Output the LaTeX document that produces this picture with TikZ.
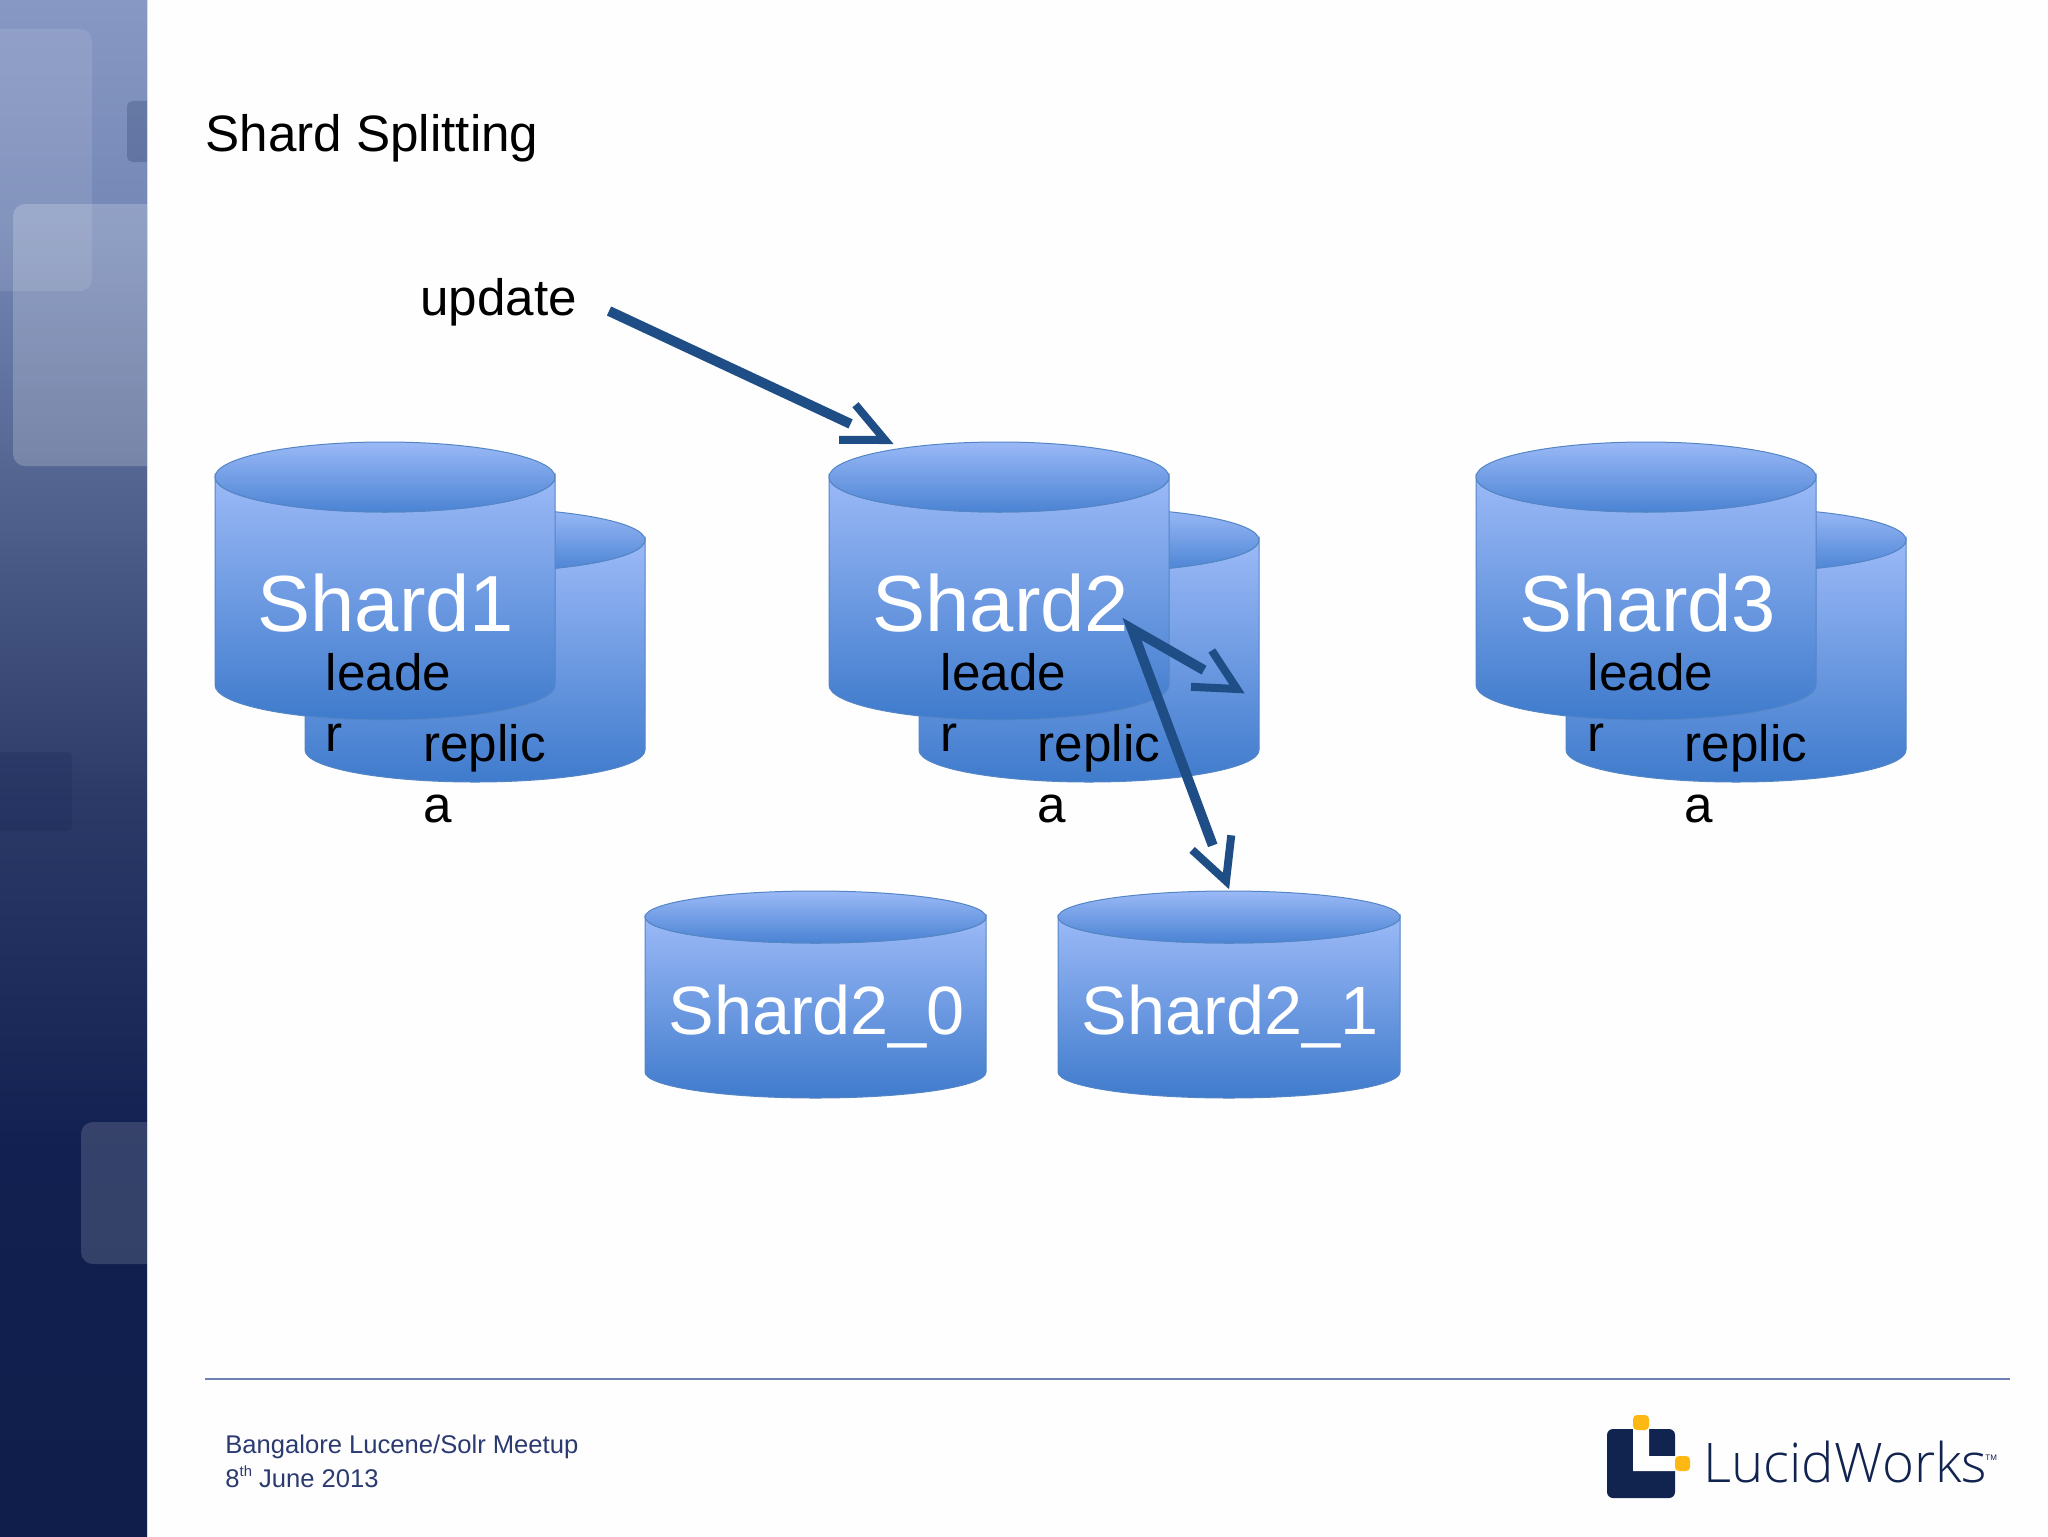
\documentclass[tikz,border=0pt]{standalone}
\usepackage{fontspec}
\setmainfont{Liberation Sans}
\newfontfamily\logofont{Open Sans Light}
\usetikzlibrary{calc}
\definecolor{cylTop}{HTML}{9BB9F7}
\definecolor{cylBot}{HTML}{3F7BCC}
\definecolor{capBot}{HTML}{4A83D3}
\definecolor{cylEdge}{HTML}{5486C6}
\definecolor{arrowBlue}{HTML}{1F4E86}
\definecolor{footBlue}{HTML}{2B3A70}
\definecolor{ruleBlue}{HTML}{6D82B0}
\definecolor{logoNavy}{HTML}{11234F}
\definecolor{logoGold}{HTML}{FDB813}
\definecolor{pa}{HTML}{0F1E4A}
\definecolor{pb}{HTML}{112050}
\definecolor{pc}{HTML}{2C3A68}
\definecolor{pd}{HTML}{52638F}
\definecolor{pe}{HTML}{7487B5}
\definecolor{pf}{HTML}{8898C4}
% the filled path runs from 25bp (its bottom) to 75bp (its top)
\pgfdeclareverticalshading{sidepanel}{100bp}{
 color(0bp)=(pa);
 color(25bp)=(pa);
 color(37.5bp)=(pb);
 color(49bp)=(pc);
 color(59bp)=(pd);
 color(67.5bp)=(pe);
 color(75bp)=(pf);
 color(100bp)=(pf)}
\tikzset{
 bodyfill/.style={draw=cylEdge,line width=0.5pt,top color=cylTop,bottom color=cylBot},
 capfill/.style={draw=cylEdge,line width=0.5pt,top color=cylTop,bottom color=capBot},
 bigname/.style={font=\fontsize{39.8}{40}\selectfont,text=white,anchor=base west,inner sep=0pt},
 smallname/.style={font=\fontsize{34.2}{36}\selectfont,text=white,anchor=base west,inner sep=0pt},
 rolelabel/.style={font=\fontsize{25.6}{30.5}\selectfont,text=black,align=left,anchor=base west,inner sep=0pt},
 heading/.style={font=\fontsize{25.6}{30}\selectfont,text=black,anchor=base west,inner sep=0pt},
 footer/.style={font=\fontsize{12.8}{17}\selectfont,text=footBlue,align=left,anchor=base west,inner sep=0pt},
 conn/.style={draw=arrowBlue,line width=4pt,line cap=butt,miter limit=20},
 shaft/.style={conn,line width=5pt,shorten >=19pt},
 panelbox/.style={rounded corners=6pt}
}
% #1 name, #2 left x, #3 right x, #4 rim centre y, #5 side end y, #6 ry (px)
\newcommand\cylshape[6]{%
 \pgfmathsetmacro\rxpt{(#3-#2)/4}%
 \pgfmathsetmacro\rypt{#6/2}%
 \pgfmathsetmacro\xmid{(#2+#3)/2}%
 \path[bodyfill] (#2,#4) arc[start angle=180,end angle=360,x radius=\rxpt pt,y radius=\rypt pt]
   -- (#3,#5) arc[start angle=0,end angle=-180,x radius=\rxpt pt,y radius=\rypt pt] -- cycle;
 \path[capfill] (\xmid,#4) ellipse[x radius=\rxpt pt,y radius=\rypt pt];
 \coordinate (#1) at (\xmid,#4);
}
% #1 tip apex, #2 coordinate the arrow comes from, #3 half angle
\newcommand\barbs[3]{%
 \draw[conn] ($(#1)!23pt!#3:(#2)$) -- (#1) -- ($(#1)!23pt!-#3:(#2)$);
}
\begin{document}
\begin{tikzpicture}[x=0.5pt,y=-0.5pt]
\useasboundingbox (0,0) rectangle (2048,1536);
\fill[white!99.5!black] (0,0) rectangle (2048,1536);
% side panel
\shade[shading=sidepanel] (0,0) rectangle (147,1536);
\begin{scope}
 \clip (0,0) rectangle (147,1536);
 \fill[white,opacity=.10,panelbox] (-30,29) rectangle (92,291);
 \fill[white,opacity=.20,panelbox] (13,204) rectangle (200,466);
 \fill[logoNavy,opacity=.22,rounded corners=3pt] (127,101) rectangle (200,162);
 \fill[logoNavy,opacity=.20,rounded corners=2pt] (-30,752) rectangle (72,831);
 \fill[white,opacity=.15,panelbox] (81,1122) rectangle (200,1264);
\end{scope}
\draw[white!70!ruleBlue,line width=0.5pt] (147.5,0) -- (147.5,1536);

% title and update label
\node[heading] (title) at (205,151) {Shard Splitting};
\node[heading] (update) at (420,315.5) {update};

% replica cylinders then leaders
\cylshape{r1}{305}{645}{540}{750}{32}
\cylshape{r2}{919}{1259}{540}{750}{32}
\cylshape{r3}{1566}{1906}{540}{750}{32}
\cylshape{l1}{215}{555}{477}{685}{35}
\cylshape{l2}{829}{1169}{477}{685}{35}
\cylshape{l3}{1476}{1816}{477}{685}{35}
\cylshape{n0}{645}{986}{917}{1072}{26}
\cylshape{n1}{1058}{1400}{917}{1072}{26}

\node[bigname] (s1) at (257,631) {Shard1};
\node[bigname] (s2) at (872,631) {Shard2};
\node[bigname] (s3) at (1519,631) {Shard3};
\node[rolelabel] (ll1) at (325.5,751) {leade\\r};
\node[rolelabel] (ll2) at (940.5,751) {leade\\r};
\node[rolelabel] (ll3) at (1587.5,751) {leade\\r};
\node[rolelabel] (rl1) at (423,822) {replic\\a};
\node[rolelabel] (rl2) at (1037.5,822) {replic\\a};
\node[rolelabel] (rl3) at (1684.5,822) {replic\\a};
\node[smallname] (s20) at (668,1034.5) {Shard2\_0};
\node[smallname] (s21) at (1081.5,1034.5) {Shard2\_1};

% connectors
\coordinate (ustart) at (609,311);
\coordinate (utip) at (885,440);
\coordinate (split) at (1132,629);
\coordinate (rtip) at (1237,689);
\coordinate (ntip) at (1226,881);
\draw[shaft] (ustart) -- (utip);
\barbs{utip}{ustart}{25}
\draw[conn,line width=5pt,shorten >=19pt,shorten <=19pt] (rtip) -- (split) -- (ntip);
\barbs{rtip}{split}{27}
\barbs{ntip}{split}{27}

% footer
\draw[ruleBlue,line width=1pt] (205,1379) -- (2010,1379);
\node[footer] (foot) at (225,1487) {Bangalore Lucene/Solr Meetup\\8\raisebox{.42em}{\fontsize{7.4}{8}\selectfont th} June 2013};

% logo
\fill[logoNavy,rounded corners=3pt] (1607,1429) rectangle (1675,1498);
\fill[white] (1633,1428) -- (1649,1428) -- (1649,1456) -- (1676,1456) -- (1676,1471) -- (1633,1471) -- cycle;
\fill[logoGold,rounded corners=2pt] (1633,1415) rectangle (1649,1430);
\fill[logoGold,rounded corners=2pt] (1675,1456) rectangle (1690,1471);
\node[anchor=base west,inner sep=0pt,text=logoNavy,font=\logofont\fontsize{27.3}{28}\selectfont] (logo) at (1703,1482) {LucidWorks};
\node[anchor=base west,inner sep=0pt,text=logoNavy,font=\fontsize{4}{5}\selectfont] (tm) at (1985,1460) {TM};
\end{tikzpicture}
\end{document}
